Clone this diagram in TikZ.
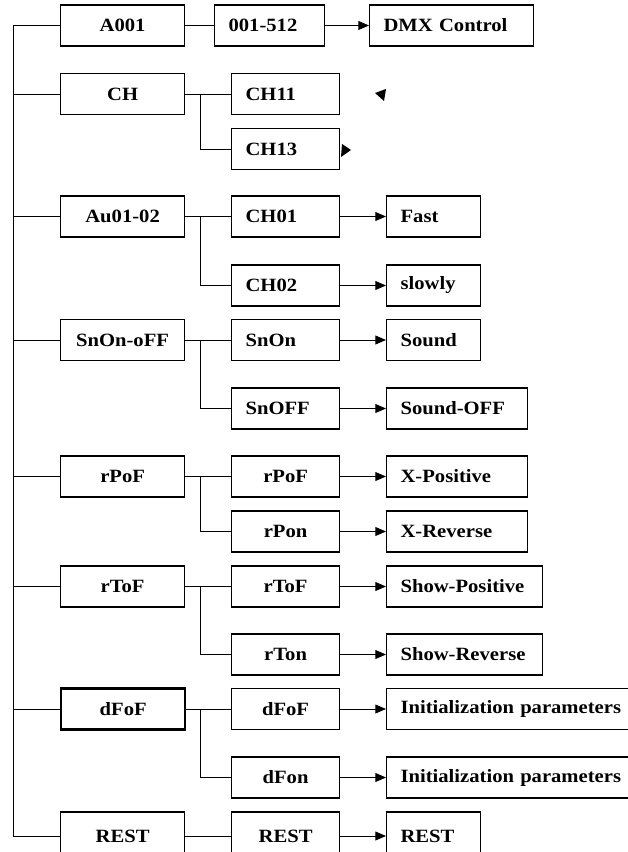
\documentclass[tikz,border=0pt]{standalone}
\usepackage{fontspec}
\setmainfont{Liberation Serif}[FakeStretch=1.1]
\usetikzlibrary{arrows.meta}

\tikzset{
  box/.style={draw,line width=1pt,anchor=west,minimum height=1.23cm,inner xsep=0.42cm,
    inner ysep=0pt,font=\fontsize{16}{18}\selectfont\bfseries},
  cbox/.style={box,text width=#1,align=center},
  lbox/.style={box,text width=#1,align=left},
}

\begin{document}
\begin{tikzpicture}[x=0.03cm,y=-0.03cm,line width=0.8pt,
  >={Triangle[length=9pt,width=7.5pt]}]
\clip (0,0) rectangle (628,852);
% ---------- first column ----------
\node[cbox=2.88cm] (a001) at (60,25.5) {A001};
\node[cbox=2.88cm] (ch) at (60,94) {CH};
\node[cbox=2.88cm] (au) at (60,216.5) {Au01-02};
\node[cbox=2.88cm] (snoo) at (60,340) {SnOn-oFF};
\node[cbox=2.88cm] (rpof) at (60,476.5) {rPoF};
\node[cbox=2.88cm] (rtof) at (60,586.5) {rToF};
\node[cbox=2.88cm,line width=2pt] (dfof) at (60,709) {dFoF};
\node[cbox=2.88cm,minimum height=1.44cm] (rest) at (60,836) {REST};
% ---------- second column ----------
\node[lbox=2.46cm] (range) at (214,25.5) {001-512};
\node[lbox=2.4cm] (ch11) at (231,94) {CH11};
\node[lbox=2.4cm] (ch13) at (231,149) {CH13};
\node[lbox=2.4cm] (ch01) at (231,216.5) {CH01};
\node[lbox=2.4cm] (ch02) at (231,285.5) {CH02};
\node[lbox=2.4cm] (snon) at (231,340) {SnOn};
\node[lbox=2.4cm] (snoff) at (231,408.5) {SnOFF};
\node[cbox=2.4cm] (rpofb) at (231,476.5) {rPoF};
\node[cbox=2.4cm] (rpon) at (231,531.5) {rPon};
\node[cbox=2.4cm] (rtofb) at (231,586.5) {rToF};
\node[cbox=2.4cm] (rton) at (231,654.5) {rTon};
\node[cbox=2.4cm] (dfofb) at (231,709) {dFoF};
\node[cbox=2.4cm] (dfon) at (231,777.5) {dFon};
\node[cbox=2.4cm,minimum height=1.44cm] (restb) at (231,836) {REST};
% ---------- third column ----------
\node[lbox=4.08cm] (dmx) at (369,25.5) {DMX Control};
\node[lbox=1.98cm] (fast) at (386,216.5) {Fast};
\node[lbox=1.98cm] (slowly) at (386,285.5) {slowly};
\node[lbox=1.98cm] (sound) at (386,340) {Sound};
\node[lbox=3.39cm] (soundoff) at (386,408.5) {Sound-OFF};
\node[lbox=3.39cm] (xpos) at (386,476.5) {X-Positive};
\node[lbox=3.39cm] (xrev) at (386,531.5) {X-Reverse};
\node[lbox=3.84cm] (showpos) at (386,586.5) {Show-Positive};
\node[lbox=3.84cm] (showrev) at (386,654.5) {Show-Reverse};
\node[lbox=7.56cm] (initA) at (386,709) {Initialization parameters};
\node[lbox=7.56cm] (initB) at (386,777.5) {Initialization parameters};
\node[lbox=1.98cm,minimum height=1.44cm] (restc) at (386,836) {REST};
% ---------- spine and branches ----------
\coordinate (spine) at (13,0);
\coordinate (br) at (200,0);
\draw (spine |- a001.west) -- (spine |- rest.west);
\foreach \n in {a001,ch,au,snoo,rpof,rtof,dfof,rest}
  \draw (spine |- \n.west) -- (\n.west);
\draw (a001.east) -- (range.west);
\draw (ch.east) -- (ch11.west);
\draw (br |- ch.east) |- (ch13.west);
\foreach \a/\b/\c in {au/ch01/ch02,snoo/snon/snoff,rpof/rpofb/rpon,rtof/rtofb/rton,dfof/dfofb/dfon}{
  \draw (\a.east) -- (\b.west);
  \draw (br |- \a.east) |- (\c.west);
}
\draw (rest.east) -- (restb.west);
% ---------- arrows ----------
\foreach \a/\b in {range/dmx,ch01/fast,ch02/slowly,snon/sound,snoff/soundoff,rpofb/xpos,
  rpon/xrev,rtofb/showpos,rton/showrev,dfofb/initA,dfon/initB,restb/restc}
  \draw[->] (\a.east) -- (\b.west);
% stray arrow heads
\fill (375,93) -- (386,89) -- (384,101) -- cycle;
\fill (351,150) -- (342,144) -- (341,157) -- cycle;
\end{tikzpicture}
\end{document}
